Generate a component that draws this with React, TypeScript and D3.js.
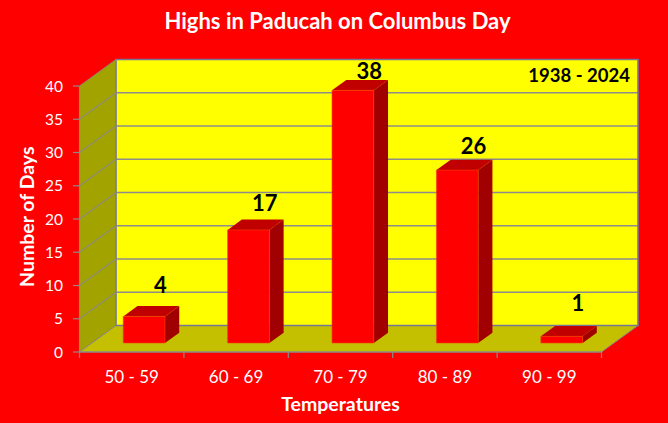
import React from "react";
import * as d3 from "d3";

const categories = ["50 - 59", "60 - 69", "70 - 79", "80 - 89", "90 - 99"];
const values = [4, 17, 38, 26, 1];
const yTicks = [0, 5, 10, 15, 20, 25, 30, 35, 40];
const titleText = "Highs in Paducah on Columbus Day";
const periodText = "1938 - 2024";
const xTitle = "Temperatures";
const yTitle = "Number of Days";

const W = 668;
const H = 423;
const DX = 36.5;
const DY = 26.5;
const Z0 = 0.34;
const Z1 = 0.73;
const FONT = "Lato, 'Open Sans', sans-serif";

export default function App() {
  const x = d3
    .scaleBand<string>()
    .domain(categories)
    .range([79.5, 601.5])
    .paddingInner(0.6)
    .paddingOuter(0.3);
  const y = d3.scaleLinear().domain([0, 40]).range([352, 86]);
  const step = x.step();
  const x0 = 79.5;
  const x1 = 601.5;

  const P = (px: number, v: number, z: number): [number, number] => [px + z * DX, y(v) - z * DY];
  const pts = (arr: [number, number][]) => arr.map((p) => p.join(",")).join(" ");

  const backWall = pts([P(x0, 0, 1), P(x1, 0, 1), P(x1, 40, 1), P(x0, 40, 1)]);
  const sideWall = pts([P(x0, 0, 0), P(x0, 0, 1), P(x0, 40, 1), P(x0, 40, 0)]);
  const floor = pts([P(x0, 0, 0), P(x0, 0, 1), P(x1, 0, 1), P(x1, 0, 0)]);

  const boundaries = d3.range(categories.length + 1).map((i) => x0 + i * step);
  const topY = P(0, 40, 1)[1];
  const botY = P(0, 0, 1)[1];

  return (
    <svg
      width={W}
      height={H}
      style={{ position: "absolute", left: 0, top: 0 }}
      fontFamily={FONT}
    >
      <rect x={0} y={0} width={W} height={H} fill="#ff0000" />
      <text x={337.5} y={28.5} textAnchor="middle" fill="#ffffff" fontWeight="bold" fontSize={22}>
        {titleText}
      </text>

      {/* walls */}
      <polygon points={sideWall} fill="#a3a300" stroke="#8a8a6a" strokeWidth={1} />
      <polygon points={floor} fill="#c4c000" stroke="#8a8a8a" strokeWidth={1} />
      <polygon points={backWall} fill="#ffff00" />

      {/* gridlines */}
      {yTicks
        .filter((v) => v > 0 && v < 40)
        .map((v) => {
          const a = P(x0, v, 0);
          const b = P(x0, v, 1);
          const c = P(x1, v, 1);
          return (
            <g key={"g" + v}>
              <line x1={a[0]} y1={a[1]} x2={b[0]} y2={b[1]} stroke="#8c8c7a" strokeWidth={1.2} />
              <line x1={b[0]} y1={b[1]} x2={c[0]} y2={c[1]} stroke="#8c8c8c" strokeWidth={1.3} />
            </g>
          );
        })}
      <polygon points={backWall} fill="none" stroke="#76769a" strokeWidth={1.6} />
      <line x1={x0 + DX} y1={topY} x2={x0 + DX} y2={botY} stroke="#8a8a8a" strokeWidth={1.2} />

      {/* bars */}
      {categories.map((c, i) => {
        const v = values[i];
        const bx0 = x(c)!;
        const bx1 = bx0 + x.bandwidth();
        const ftl = P(bx0, v, Z0);
        const ftr = P(bx1, v, Z0);
        const fbr = P(bx1, 0, Z0);
        const fbl = P(bx0, 0, Z0);
        const btl = P(bx0, v, Z1);
        const btr = P(bx1, v, Z1);
        const bbr = P(bx1, 0, Z1);
        const frac = (btl[1] - topY) / (botY - topY);
        const ly = btl[1] - (8 + 14.5 * frac);
        const lx = (btl[0] + btr[0]) / 2 + 2;
        return (
          <g key={c}>
            <polygon points={pts([ftr, btr, bbr, fbr])} fill="#a00000" />
            <polygon points={pts([ftl, ftr, btr, btl])} fill="#c00000" />
            <polygon points={pts([ftl, ftr, fbr, fbl])} fill="#ff0000" stroke="#f04000" strokeWidth={0.6} />
            <text x={lx} y={ly} dy="0.36em" textAnchor="middle" fontWeight="bold" fontSize={22} fill="#000000">
              {v}
            </text>
          </g>
        );
      })}

      <text x={630} y={81.5} textAnchor="end" fontWeight="bold" fontSize={18.5} fill="#000000">
        {periodText}
      </text>

      {/* y axis */}
      <line x1={x0} y1={y(0)} x2={x0} y2={y(40)} stroke="#8a8a8a" strokeWidth={1.2} />
      {yTicks.map((v) => (
        <g key={"t" + v}>
          <line x1={x0 - 6.5} y1={y(v)} x2={x0} y2={y(v)} stroke="#8a8a8a" strokeWidth={1.2} />
          <text x={63} y={y(v)} dy="0.36em" textAnchor="end" fill="#ffffff" fontSize={15.5}>
            {v}
          </text>
        </g>
      ))}
      <text
        transform={`translate(33.5,216.7) rotate(-90)`}
        textAnchor="middle"
        fill="#ffffff"
        fontWeight="bold"
        fontSize={19.5}
      >
        {yTitle}
      </text>

      {/* x axis */}
      <line x1={x0} y1={y(0)} x2={x1} y2={y(0)} stroke="#8a8a8a" strokeWidth={1.2} />
      {boundaries.map((b, i) => (
        <line key={"b" + i} x1={b} y1={y(0)} x2={b} y2={y(0) + 6} stroke="#8a8a8a" strokeWidth={1.2} />
      ))}
      {categories.map((c) => (
        <text
          key={"l" + c}
          x={x(c)! + x.bandwidth() / 2}
          y={382.5}
          textAnchor="middle"
          fill="#ffffff"
          fontSize={17}
        >
          {c}
        </text>
      ))}
      <text x={(x0 + x1) / 2} y={410.5} textAnchor="middle" fill="#ffffff" fontWeight="bold" fontSize={19.5}>
        {xTitle}
      </text>
    </svg>
  );
}
